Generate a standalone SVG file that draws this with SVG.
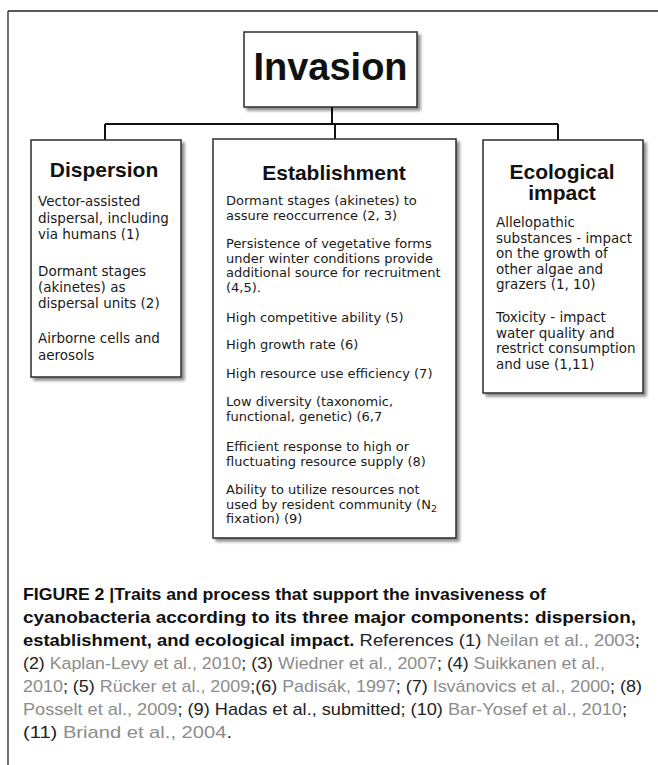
<svg xmlns="http://www.w3.org/2000/svg" width="658" height="765" viewBox="0 0 658 765">
<defs>
<filter id="sh" x="-10%" y="-10%" width="130%" height="130%">
<feGaussianBlur in="SourceAlpha" stdDeviation="1.5"/>
<feOffset dx="2.5" dy="3" result="o"/>
<feComponentTransfer><feFuncA type="linear" slope="0.45"/></feComponentTransfer>
<feMerge><feMergeNode/><feMergeNode in="SourceGraphic"/></feMerge>
</filter>
</defs>
<style>
.box{fill:#ffffff;stroke:#2b2b2b;stroke-width:1.5;filter:url(#sh)}
.conn{stroke:#111;stroke-width:2;fill:none}
.h{font-family:"Liberation Sans",Arial,sans-serif;font-weight:bold;fill:#111;text-anchor:middle}
.b{font-family:"DejaVu Sans","Liberation Sans",sans-serif;font-size:13.5px;fill:#1a1a1a}
.e{font-size:13px}
.cap{font-family:"Liberation Sans",Arial,sans-serif;font-size:17px;fill:#222}
.bold{font-weight:bold;fill:#111}
.g{fill:#8c8c8c}
</style>
<rect width="658" height="765" fill="#ffffff"/>
<g id="frame">
<line x1="8" y1="11" x2="658" y2="11" stroke="#222" stroke-width="1.3"/>
<line x1="8" y1="11" x2="8" y2="765" stroke="#222" stroke-width="1.3"/>
</g>
<g id="connectors">
<path class="conn" d="M332 107 V124 M105 124 H558 M105 124 V140 M335 124 V139 M558 124 V140"/>
</g>
<g id="invasion">
<rect class="box" x="244" y="32" width="173" height="75"/>
<text class="h" x="330.5" y="80" font-size="38">Invasion</text>
</g>
<g id="dispersion">
<rect class="box" x="31" y="140" width="150" height="237"/>
<text class="h" x="104" y="177" font-size="21">Dispersion</text>
<text class="b" x="38" y="206">Vector-assisted</text>
<text class="b" x="38" y="222.5">dispersal, including</text>
<text class="b" x="38" y="239">via humans (1)</text>
<text class="b" x="38" y="275.5">Dormant stages</text>
<text class="b" x="38" y="291.5">(akinetes) as</text>
<text class="b" x="38" y="307.5">dispersal units (2)</text>
<text class="b" x="38" y="343">Airborne cells and</text>
<text class="b" x="38" y="359.5">aerosols</text>
</g>
<g id="establishment">
<rect class="box" x="213" y="139" width="243" height="399"/>
<text class="h" x="334" y="180" font-size="21">Establishment</text>
<text class="b e" x="226" y="205">Dormant stages  (akinetes) to</text>
<text class="b e" x="226" y="220">assure reoccurrence (2, 3)</text>
<text class="b e" x="226" y="248">Persistence of vegetative forms</text>
<text class="b e" x="226" y="262.7">under winter conditions provide</text>
<text class="b e" x="226" y="277.4">additional source for recruitment</text>
<text class="b e" x="226" y="292">(4,5).</text>
<text class="b e" x="226" y="322">High competitive ability (5)</text>
<text class="b e" x="226" y="349">High growth rate (6)</text>
<text class="b e" x="226" y="378">High resource use efficiency (7)</text>
<text class="b e" x="226" y="406">Low diversity (taxonomic,</text>
<text class="b e" x="226" y="421">functional, genetic)  (6,7</text>
<text class="b e" x="226" y="451">Efficient response to high or</text>
<text class="b e" x="226" y="466">fluctuating resource supply (8)</text>
<text class="b e" x="226" y="494">Ability to utilize resources not</text>
<text class="b e" x="226" y="508.5">used by resident community (N<tspan font-size="9.5" dy="3">2</tspan></text>
<text class="b e" x="226" y="523">fixation) (9)</text>
</g>
<g id="ecological">
<rect class="box" x="483" y="140" width="160" height="253"/>
<text class="h" x="562" y="179" font-size="21">Ecological</text>
<text class="h" x="562" y="200" font-size="21">impact</text>
<text class="b" x="496" y="227">Allelopathic</text>
<text class="b" x="496" y="242.5">substances - impact</text>
<text class="b" x="496" y="258">on the growth of</text>
<text class="b" x="496" y="273.5">other algae and</text>
<text class="b" x="496" y="289">grazers (1, 10)</text>
<text class="b" x="496" y="322">Toxicity - impact</text>
<text class="b" x="496" y="337.5">water quality and</text>
<text class="b" x="496" y="353">restrict consumption</text>
<text class="b" x="496" y="368.5">and use (1,11)</text>
</g>
<g id="caption">
<text class="cap bold" x="23" y="600" textLength="523" lengthAdjust="spacingAndGlyphs">FIGURE 2 |Traits and process that support the invasiveness of</text>
<text class="cap bold" x="23" y="623" textLength="613" lengthAdjust="spacingAndGlyphs">cyanobacteria according to its three major components: dispersion,</text>
<text class="cap" x="23" y="646" textLength="617" lengthAdjust="spacingAndGlyphs"><tspan class="bold">establishment, and ecological impact.</tspan> References (1) <tspan class="g">Neilan et al., 2003</tspan>;</text>
<text class="cap" x="23" y="669" textLength="582" lengthAdjust="spacingAndGlyphs">(2) <tspan class="g">Kaplan-Levy et al., 2010</tspan>; (3) <tspan class="g">Wiedner et al., 2007</tspan>; (4) <tspan class="g">Suikkanen et al.,</tspan></text>
<text class="cap" x="23" y="692" textLength="619" lengthAdjust="spacingAndGlyphs"><tspan class="g">2010</tspan>; (5) <tspan class="g">Rücker et al., 2009</tspan>;(6) <tspan class="g">Padisák, 1997</tspan>; (7) <tspan class="g">Isvánovics et al., 2000</tspan>; (8)</text>
<text class="cap" x="23" y="715" textLength="604" lengthAdjust="spacingAndGlyphs"><tspan class="g">Posselt et al., 2009</tspan>; (9) Hadas et al., submitted; (10) <tspan class="g">Bar-Yosef et al., 2010</tspan>;</text>
<text class="cap" x="23" y="738" textLength="209" lengthAdjust="spacingAndGlyphs">(11) <tspan class="g">Briand et al., 2004</tspan>.</text>
</g>
</svg>
